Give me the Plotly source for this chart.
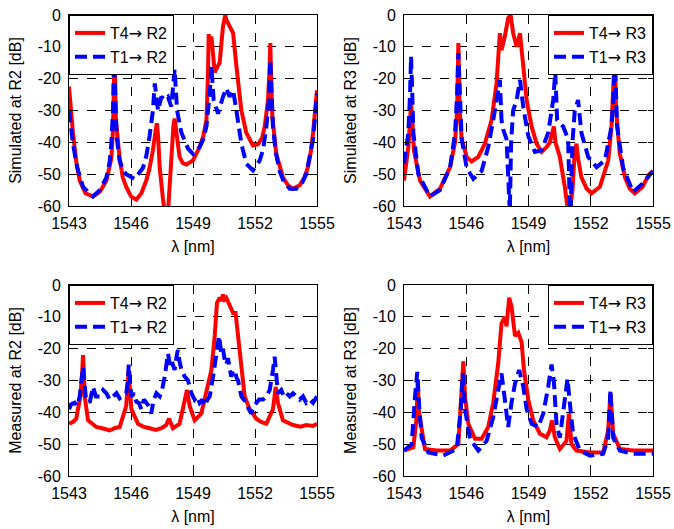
import plotly.graph_objects as go
from plotly.subplots import make_subplots

# ---------------- data ----------------
# Top-left: simulated at R2
sim_r2_t4_x = [1543.0, 1543.1, 1543.19, 1543.35, 1543.52, 1543.8, 1544.16, 1544.5, 1544.81, 1544.95, 1545.05, 1545.13,
               1545.2, 1545.27, 1545.37, 1545.45, 1545.6, 1545.77, 1546.0, 1546.26, 1546.5, 1546.74, 1546.9, 1547.06,
               1547.2, 1547.25, 1547.31, 1547.39, 1547.55, 1547.63, 1547.79, 1547.95, 1548.05, 1548.11, 1548.2,
               1548.35, 1548.5, 1548.68, 1549.0, 1549.32, 1549.5, 1549.65, 1549.72, 1549.76, 1549.81, 1549.89,
               1550.05, 1550.29, 1550.45, 1550.56, 1550.61, 1550.69, 1550.85, 1550.94, 1551.1, 1551.34, 1551.58,
               1551.9, 1552.15, 1552.35, 1552.47, 1552.63, 1552.71, 1552.74, 1552.78, 1552.84, 1553.03, 1553.2,
               1553.35, 1553.6, 1553.84, 1554.16, 1554.4, 1554.56, 1554.7, 1554.81, 1554.92, 1555.0]
sim_r2_t4_y = [-22.5, -32, -37, -46, -52, -56, -57, -55.5, -52, -48, -45, -36,
               -12, -33, -39, -45, -51, -54, -57, -58, -56, -52, -48, -42.5,
               -36, -34, -38, -48, -58, -62, -62, -42, -35, -32.5, -38,
               -44.6, -46.5, -47, -45.7, -41.5, -38, -33, -20, -6, -9, -6.7,
               -18, -15, -3.6, 0, -1.5, -2.5, -5, -5.7, -16, -30, -37,
               -41, -40.6, -38.5, -35, -26.7, -16, -8.8, -20, -32, -43.6, -48,
               -51, -53.5, -54.6, -53.5, -51, -47.8, -43, -37, -30, -23.6]

sim_r2_t1_x = [1543.0, 1543.1, 1543.19, 1543.4, 1543.68, 1544.16, 1544.5, 1544.81, 1544.97, 1545.05, 1545.13, 1545.18,
               1545.24, 1545.3, 1545.45, 1545.6, 1545.77, 1546.18, 1546.58, 1546.75, 1546.9, 1547.06, 1547.15, 1547.31,
               1547.47, 1547.63, 1547.79, 1547.95, 1548.11, 1548.23, 1548.44, 1548.76, 1549.0, 1549.32, 1549.5,
               1549.65, 1549.81, 1549.89, 1550.0, 1550.21, 1550.45, 1550.61, 1550.77, 1550.94, 1551.1, 1551.34,
               1551.58, 1551.9, 1552.23, 1552.4, 1552.55, 1552.68, 1552.74, 1552.8, 1552.87, 1553.0, 1553.19,
               1553.4, 1553.68, 1554.0, 1554.3, 1554.48, 1554.65, 1554.81, 1554.92, 1555.0]
sim_r2_t1_y = [-30, -36, -40.4, -48, -54, -57, -55, -51, -46, -40, -30, -12,
               -30, -38, -45.7, -48.5, -50, -51.5, -48, -44, -38, -30, -21.5, -30,
               -25.7, -26.7, -25.7, -28.8, -17, -30, -37, -42, -43.6, -41.5, -39,
               -35, -24.6, -16, -26.7, -31, -25.7, -23, -25.7, -23.6, -30, -40.4,
               -46.7, -48.8, -45.7, -42, -35, -26, -14, -26, -35, -43, -49,
               -52.5, -54.6, -54.6, -52.5, -50, -45, -39, -31, -24.6]

# Top-right: simulated at R3
sim_r3_t4_x = [1543.0, 1543.21, 1543.29, 1543.34, 1543.4, 1543.48, 1543.77, 1544.25, 1544.73, 1545.22, 1545.46, 1545.56,
               1545.62, 1545.68, 1545.78, 1546.02, 1546.26, 1546.58, 1546.9, 1547.22, 1547.46, 1547.62, 1547.7,
               1547.86, 1548.02, 1548.14, 1548.26, 1548.43, 1548.59, 1548.75, 1548.91, 1549.15, 1549.39, 1549.63,
               1549.87, 1550.03, 1550.15, 1550.22, 1550.3, 1550.51, 1550.75, 1550.91, 1550.99, 1551.12, 1551.22,
               1551.31, 1551.39, 1551.55, 1551.8, 1552.04, 1552.44, 1552.84, 1553.0, 1553.12, 1553.16, 1553.22,
               1553.4, 1553.65, 1553.88, 1554.12, 1554.49, 1554.81, 1555.0]
sim_r3_t4_y = [-52, -41.5, -33, -28, -33, -42.5, -52, -57, -54.6, -47.8, -40, -30,
               -8.8, -30, -39, -44.6, -46, -44.6, -40.4, -33, -21.5, -5.7, -11,
               -6.7, -1, 0, -5.7, -10, -5.7, -16, -26.7, -35, -40.4, -43,
               -41.5, -40, -37, -35, -40, -44.6, -54, -62, -62, -55, -44,
               -40.4, -45, -51, -54.5, -56, -54, -45.7, -35, -20, -12, -30,
               -43.6, -51, -54.6, -56, -54, -50, -49]

sim_r3_t1_x = [1543.0, 1543.21, 1543.29, 1543.34, 1543.4, 1543.45, 1543.69, 1544.25, 1544.73, 1545.22, 1545.46, 1545.56,
               1545.62, 1545.68, 1545.78, 1546.02, 1546.34, 1546.74, 1547.06, 1547.38, 1547.62, 1547.7, 1547.78,
               1547.94, 1548.04, 1548.1, 1548.16, 1548.26, 1548.43, 1548.59, 1548.75, 1548.99, 1549.31, 1549.63,
               1549.95, 1550.19, 1550.29, 1550.38, 1550.67, 1550.91, 1551.0, 1551.03, 1551.12, 1551.23, 1551.39,
               1551.55, 1551.88, 1552.28, 1552.68, 1553.0, 1553.1, 1553.16, 1553.22, 1553.27, 1553.56, 1554.04,
               1554.49, 1555.0]
sim_r3_t1_y = [-46.7, -37, -25, -13, -25, -37, -50, -57, -55, -48, -37, -25,
               -12, -25, -39, -48, -51.5, -49, -41.5, -30, -20.4, -33, -36,
               -39, -62, -62, -40.4, -30, -26.7, -20.4, -29, -38, -43, -42.5,
               -37, -26.7, -18, -33, -35, -39, -62, -62, -40, -30, -26.7,
               -37, -44.6, -47.8, -45.7, -35, -25, -14, -25, -35, -48, -55.6,
               -53, -49]

# Bottom-left: measured at R2
meas_r2_t4_x = [1543.0, 1543.2, 1543.35, 1543.55, 1543.64, 1543.68, 1543.72, 1543.76, 1543.92, 1544.1, 1544.32, 1544.6,
                1544.97, 1545.2, 1545.45, 1545.77, 1545.85, 1545.89, 1545.95, 1546.02, 1546.34, 1546.6, 1546.9,
                1547.2, 1547.47, 1547.7, 1547.84, 1548.03, 1548.35, 1548.6, 1548.71, 1548.84, 1549.08, 1549.4,
                1549.65, 1549.89, 1550.05, 1550.16, 1550.29, 1550.37, 1550.45, 1550.53, 1550.61, 1550.77, 1550.94,
                1551.06, 1551.18, 1551.34, 1551.5, 1551.74, 1552.06, 1552.3, 1552.55, 1552.87, 1553.0, 1553.11,
                1553.35, 1553.84, 1554.2, 1554.48, 1554.8, 1555.0]
meas_r2_t4_y = [-43.6, -43, -42, -35, -27, -22, -28, -35, -42.5, -43.5, -44.6, -45,
                -45.7, -45, -44.6, -38, -32, -26.7, -33, -39, -43.6, -44.5, -45,
                -45.5, -45, -44, -42, -45, -43.6, -37, -33, -38, -42.5, -40.4,
                -33, -26.7, -16, -5.7, -4, -5, -3, -4.5, -4, -6.7, -8.8,
                -8.8, -16, -26.7, -35, -39, -42, -43, -43.6, -39, -32, -37,
                -42.5, -44, -44.5, -44, -44.3, -43.6]

meas_r2_t1_x = [1543.0, 1543.1, 1543.27, 1543.4, 1543.52, 1543.62, 1543.68, 1543.74, 1543.81, 1543.9, 1544.0, 1544.16,
                1544.3, 1544.48, 1544.65, 1544.81, 1544.97, 1545.13, 1545.3, 1545.45, 1545.6, 1545.77, 1545.85,
                1545.89, 1545.95, 1546.02, 1546.15, 1546.26, 1546.38, 1546.5, 1546.62, 1546.74, 1546.86, 1546.98,
                1547.1, 1547.23, 1547.39, 1547.5, 1547.63, 1547.79, 1547.88, 1547.95, 1548.03, 1548.11, 1548.19,
                1548.27, 1548.35, 1548.44, 1548.6, 1548.76, 1548.92, 1549.08, 1549.2, 1549.32, 1549.45, 1549.56,
                1549.7, 1549.81, 1549.97, 1550.13, 1550.26, 1550.37, 1550.45, 1550.53, 1550.61, 1550.69, 1550.77,
                1550.85, 1550.94, 1551.02, 1551.1, 1551.18, 1551.34, 1551.45, 1551.58, 1551.7, 1551.82, 1551.95,
                1552.06, 1552.2, 1552.39, 1552.55, 1552.71, 1552.8, 1552.87, 1552.95, 1553.03, 1553.11, 1553.27,
                1553.4, 1553.52, 1553.68, 1553.84, 1554.0, 1554.16, 1554.32, 1554.48, 1554.65, 1554.81, 1555.0]
meas_r2_t1_y = [-39, -37.5, -37, -38, -35, -30, -25.7, -30, -35, -36, -37, -32,
                -35, -35, -33, -34, -36, -35, -34, -35.6, -35, -34, -30,
                -25, -30, -35, -34, -36.7, -37, -39, -36, -37, -38, -40.4,
                -36, -34, -35, -33, -28.8, -21.5, -25, -23.5, -25, -26.7, -23,
                -20.4, -24, -26.7, -28.8, -30, -34, -36, -35, -37, -36, -38,
                -36, -35, -28.8, -22.5, -16, -21.5, -20, -23.5, -25, -23, -25.7,
                -28.8, -27, -26.7, -29, -30, -35, -36, -37, -39, -40.4, -38,
                -37, -36, -36, -35, -33, -30, -26.7, -22.5, -30, -34, -33,
                -35, -34, -35, -34, -35, -36, -35, -37, -36, -37, -35]

# Bottom-right: measured at R3
meas_r3_t4_x = [1543.0, 1543.45, 1543.61, 1543.66, 1543.72, 1543.85, 1544.01, 1544.57, 1545.22, 1545.62, 1545.78, 1545.86,
                1545.94, 1546.1, 1546.42, 1546.74, 1547.06, 1547.3, 1547.54, 1547.7, 1547.86, 1547.94, 1548.07,
                1548.18, 1548.35, 1548.51, 1548.67, 1548.78, 1548.99, 1549.23, 1549.55, 1549.87, 1550.03, 1550.13,
                1550.27, 1550.51, 1550.83, 1550.95, 1551.07, 1551.31, 1551.96, 1552.6, 1552.84, 1552.95, 1553.08,
                1553.4, 1554.04, 1555.0]
meas_r3_t4_y = [-52, -51, -41.5, -30, -40, -46, -51.5, -52, -52, -50, -35, -24,
                -35, -43.6, -48.3, -48.3, -44.6, -37, -24.6, -12, -10, -13, -4,
                -6.7, -16, -15, -18, -26.7, -36, -42.5, -46.7, -47.8, -45.7, -42.5,
                -47.8, -51.5, -49, -40.4, -50, -52, -52.6, -52.6, -45.7, -34, -46.7,
                -51.5, -52, -52]

meas_r3_t1_x = [1543.0, 1543.37, 1543.53, 1543.64, 1543.74, 1543.85, 1544.17, 1544.89, 1545.54, 1545.74, 1545.83, 1545.94,
                1546.18, 1546.58, 1546.98, 1547.3, 1547.54, 1547.7, 1547.86, 1548.02, 1548.18, 1548.35, 1548.55,
                1548.75, 1548.91, 1549.15, 1549.47, 1549.71, 1549.95, 1550.11, 1550.22, 1550.35, 1550.51, 1550.67,
                1550.88, 1550.99, 1551.15, 1551.48, 1551.96, 1552.6, 1552.84, 1552.95, 1553.08, 1553.4, 1554.04,
                1555.0]
meas_r3_t1_y = [-52, -50, -35, -27.3, -39, -48, -52.6, -53.6, -51.5, -39, -27.8, -39,
                -48.3, -52, -49, -41.5, -33, -27.8, -36, -44.6, -37, -31, -26.7,
                -32, -39, -43.6, -44.6, -40.4, -32, -25, -30, -43.6, -48, -39,
                -29.4, -37, -46.7, -52, -53.6, -53, -48, -33, -48, -52, -53,
                -53]

# Axis ticks and labels
x_tickvals = [1543, 1546, 1549, 1552, 1555]
x_ticktext = ["1543", "1546", "1549", "1552", "1555"]
y_tickvals = [-60, -50, -40, -30, -20, -10, 0]
y_ticktext = ["-60", "-50", "-40", "-30", "-20", "-10", "0"]

y_titles = ["Simulated at R2 [dB]", "Simulated at R3 [dB]", "Measured at R2 [dB]", "Measured at R3 [dB]"]
x_title = "λ [nm]"
ARROW = "<span style='font-family:DejaVu Sans'>\u2192</span>"
legend_names = [("T4" + ARROW + " R2", "T1" + ARROW + " R2"), ("T4" + ARROW + " R3", "T1" + ARROW + " R3"),
                ("T4" + ARROW + " R2", "T1" + ARROW + " R2"), ("T4" + ARROW + " R3", "T1" + ARROW + " R3")]

panels = [
    (sim_r2_t4_x, sim_r2_t4_y, sim_r2_t1_x, sim_r2_t1_y),
    (sim_r3_t4_x, sim_r3_t4_y, sim_r3_t1_x, sim_r3_t1_y),
    (meas_r2_t4_x, meas_r2_t4_y, meas_r2_t1_x, meas_r2_t1_y),
    (meas_r3_t4_x, meas_r3_t4_y, meas_r3_t1_x, meas_r3_t1_y),
]

# ---------------- figure ----------------
W, H = 674, 529
FONT = "Liberation Sans, Arial, sans-serif"

fig = make_subplots(rows=2, cols=2)

xdom = [[69 / W, 317 / W], [404 / W, 653 / W]]
ydom = [[1 - 206 / H, 1 - 15 / H], [1 - 476 / H, 1 - 285 / H]]

legend_ids = ["legend", "legend2", "legend3", "legend4"]
legend_cfg = {}

for i, (rx, ry, bx, by) in enumerate(panels):
    r, c = i // 2 + 1, i % 2 + 1
    fig.add_trace(go.Scatter(x=rx, y=ry, mode="lines", name=legend_names[i][0],
                             line=dict(color="#ff0000", width=4), legend=legend_ids[i]), row=r, col=c)
    fig.add_trace(go.Scatter(x=bx, y=by, mode="lines", name=legend_names[i][1],
                             line=dict(color="#0000ff", width=4, dash="12px,6px"), legend=legend_ids[i]), row=r, col=c)
    fig.update_xaxes(row=r, col=c, domain=xdom[c - 1], range=[1543, 1555], automargin=False,
                     tickvals=x_tickvals, ticktext=x_ticktext,
                     showline=True, linecolor="black", linewidth=1, mirror="ticks",
                     ticks="inside", ticklen=5, tickcolor="black",
                     showgrid=True, gridcolor="black", griddash="dash", gridwidth=1,
                     zeroline=False, tickfont=dict(family=FONT, size=16, color="black"),
                     ticklabelstandoff=3,
                     title=dict(text=x_title, font=dict(family=FONT, size=16, color="black"), standoff=9))
    fig.update_yaxes(row=r, col=c, domain=ydom[r - 1], range=[-60, 0], automargin=False,
                     tickvals=y_tickvals, ticktext=y_ticktext,
                     showline=True, linecolor="black", linewidth=1, mirror="ticks",
                     ticks="inside", ticklen=5, tickcolor="black",
                     showgrid=True, gridcolor="black", griddash="dash", gridwidth=1,
                     zeroline=False, tickfont=dict(family=FONT, size=16, color="black"),
                     ticklabelstandoff=4,
                     title=dict(text=y_titles[i], font=dict(family=FONT, size=16, color="black"), standoff=12))
    top = ydom[r - 1][1]
    if c == 1:
        lx, xa = xdom[0][0], "left"
    else:
        lx, xa = xdom[1][1], "right"
    legend_cfg[legend_ids[i]] = dict(x=lx, y=top, xanchor=xa, yanchor="top",
                                     bgcolor="white", bordercolor="black", borderwidth=1,
                                     font=dict(family=FONT, size=16, color="black"),
                                     itemwidth=30, tracegroupgap=0)

fig.update_layout(width=W, height=H, margin=dict(l=0, r=0, t=0, b=0, autoexpand=False),
                  paper_bgcolor="white", plot_bgcolor="white",
                  font=dict(family=FONT, size=16, color="black"),
                  showlegend=True, **legend_cfg)

fig.write_html("out.html", config={"displayModeBar": False},
               post_script="document.body.style.margin='0';document.body.style.overflow='hidden';")
